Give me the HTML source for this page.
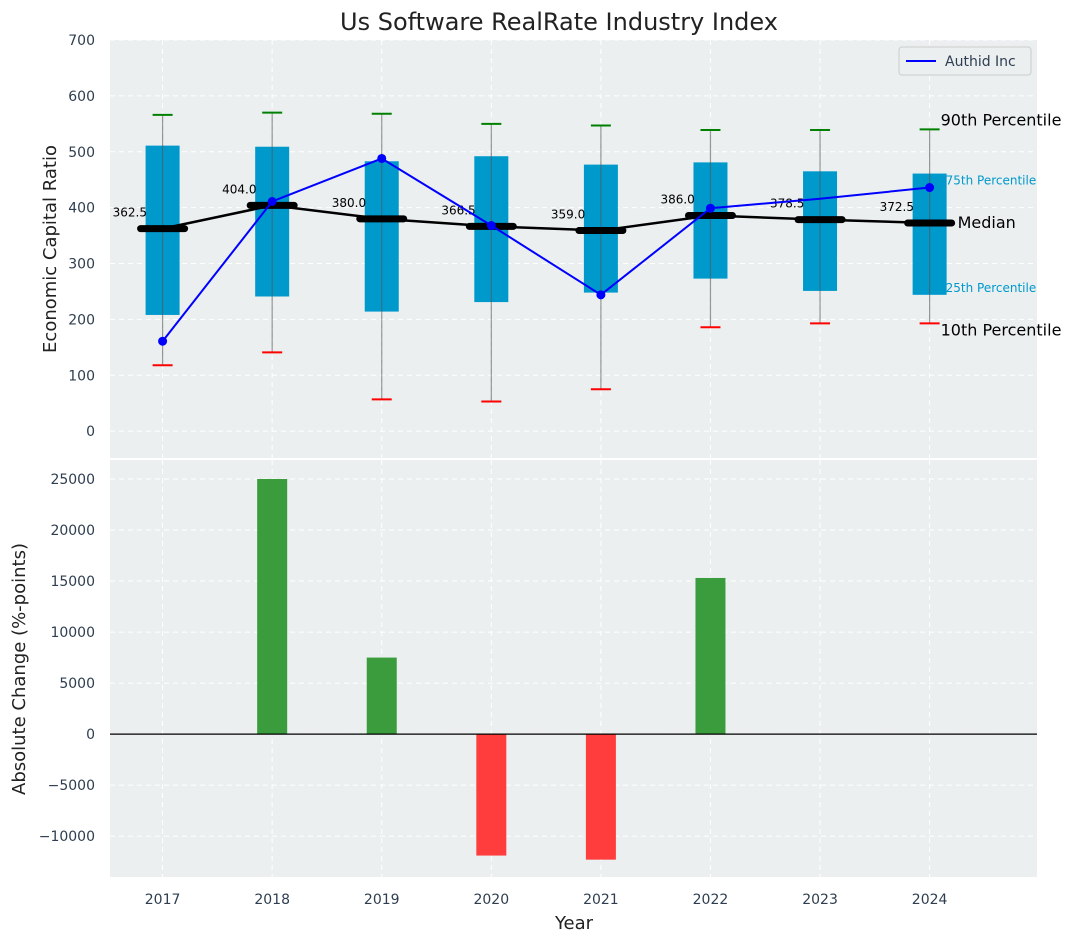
<!DOCTYPE html>
<html><head><meta charset="utf-8"><style>
body{margin:0;background:#fff;font-family:"Liberation Sans","DejaVu Sans",sans-serif}
svg text{font-family:"DejaVu Sans","Liberation Sans",sans-serif}
</style></head><body>
<svg id="c" width="1076" height="942" xmlns="http://www.w3.org/2000/svg"></svg>
<script>
const years=[2017,2018,2019,2020,2021,2022,2023,2024];
const q1=[208,241,214,231,248,273,251,244];
const q3=[511,509,483,492,477,481,465,461];
const p10=[118,141,57,53,75,186,193,193];
const p90=[566,570,568,550,547,539,539,540];
const medians=[362.5,404.0,380.0,366.5,359.0,386.0,378.5,372.5];
const company=[161,411,488,368,244,399,416,436];
const changes=[0,25000,7500,-11900,-12300,15300,0,0];
const yTicksTop=[0,100,200,300,400,500,600,700];
const yTicksBot=[-10000,-5000,0,5000,10000,15000,20000,25000];

const NS="http://www.w3.org/2000/svg";
const svg=document.getElementById('c');
function el(t,a,txt){const e=document.createElementNS(NS,t);for(const k in a)e.setAttribute(k,a[k]);if(txt!==undefined)e.textContent=txt;svg.appendChild(e);return e;}
const X0=110,X1=1037;
const x=v=>X0+(v-2016.52)/(2024.98-2016.52)*(X1-X0);
const T0=40,T1=458;const yT=v=>T0+(700-v)/(700-(-48))*(T1-T0);
const B0=460,B1=877;const yB=v=>B0+(26860-v)/(26860-(-14000))*(B1-B0);

let e;
e=el('rect',{x:X0,y:T0,width:X1-X0,height:T1-T0,fill:'#ebeff0'});

e=el('rect',{x:X0,y:B0,width:X1-X0,height:B1-B0,fill:'#ebeff0'});


years.forEach(yr=>{
 el('line',{x1:x(yr),x2:x(yr),y1:T0,y2:T1,stroke:'#fff','stroke-dasharray':'5,4','stroke-width':1});
 el('line',{x1:x(yr),x2:x(yr),y1:B0,y2:B1,stroke:'#fff','stroke-dasharray':'5,4','stroke-width':1});
 e=el('text',{x:x(yr),y:904,'font-size':14,fill:'#2e3e50','text-anchor':'middle'},yr);
 
});
yTicksTop.forEach(v=>{
 el('line',{x1:X0,x2:X1,y1:yT(v),y2:yT(v),stroke:'#fff','stroke-dasharray':'5,4'});
 e=el('text',{x:95,y:yT(v)+5,'font-size':14,fill:'#2e3e50','text-anchor':'end'},v);
 
});
yTicksBot.forEach(v=>{
 el('line',{x1:X0,x2:X1,y1:yB(v),y2:yB(v),stroke:'#fff','stroke-dasharray':'5,4'});
 e=el('text',{x:95,y:yB(v)+5,'font-size':14,fill:'#2e3e50','text-anchor':'end'},v<0?'\u2212'+(-v):v);
 
});

years.forEach((yr,i)=>{
 const cx=x(yr);
 e=el('rect',{x:cx-17,y:yT(q3[i]),width:34,height:yT(q1[i])-yT(q3[i]),fill:'#0099cc'});
 
 el('line',{x1:cx,x2:cx,y1:yT(p90[i]),y2:yT(p10[i]),stroke:'#555','stroke-opacity':0.6,'stroke-width':1.2});
 e=el('line',{x1:cx-10,x2:cx+10,y1:yT(p90[i]),y2:yT(p90[i]),stroke:'green','stroke-width':2});
 
 e=el('line',{x1:cx-10,x2:cx+10,y1:yT(p10[i]),y2:yT(p10[i]),stroke:'red','stroke-width':2});
 
});
e=el('polyline',{points:years.map((yr,i)=>x(yr)+','+yT(medians[i])).join(' '),fill:'none',stroke:'#000','stroke-width':2.5});

years.forEach((yr,i)=>{
 const cx=x(yr);
 e=el('line',{x1:cx-22,x2:cx+22,y1:yT(medians[i]),y2:yT(medians[i]),stroke:'#000','stroke-width':7,'stroke-linecap':'round'});
 
 e=el('text',{x:cx-50,y:yT(medians[i])-12,'font-size':12,fill:'#000'},medians[i].toFixed(1));
 
});
e=el('polyline',{points:years.map((yr,i)=>x(yr)+','+yT(company[i])).join(' '),fill:'none',stroke:'blue','stroke-width':2});

years.forEach((yr,i)=>{
 if(i===6)return;
 e=el('circle',{cx:x(yr),cy:yT(company[i]),r:4.5,fill:'blue'});
 
});
const li=years.length-1,lx=x(years[li]);
[['90th Percentile',p90[li],16,'#000',11,-4],['75th Percentile',q3[li],12,'#0099cc',16,11],['Median',medians[li],16,'#000',28,5],['25th Percentile',q1[li],12,'#0099cc',16,-3],['10th Percentile',p10[li],16,'#000',11,12]].forEach(a=>{
 e=el('text',{x:lx+a[4],y:yT(a[1])+a[5],'font-size':a[2],fill:a[3]},a[0]);
 
});
e=el('rect',{x:899,y:47,width:132,height:28,rx:3,fill:'#ebeff0',stroke:'#ccc'});

el('line',{x1:906,x2:936,y1:61,y2:61,stroke:'blue','stroke-width':2});
e=el('text',{x:945,y:66,'font-size':14,fill:'#2e3e50'},'Authid Inc');


years.forEach((yr,i)=>{
 const v=changes[i];if(v===0)return;
 const y1=yB(Math.max(v,0)),y2=yB(Math.min(v,0));
 e=el('rect',{x:x(yr)-15,y:y1,width:30,height:y2-y1,fill:v>0?'#3a9c3c':'#ff3d3d'});
 
});
el('line',{x1:X0,x2:X1,y1:yB(0),y2:yB(0),stroke:'#000','stroke-width':1.2});

e=el('text',{x:559,y:30,'font-size':24,fill:'#222','text-anchor':'middle'},'Us Software RealRate Industry Index');

e=el('text',{x:574,y:929,'font-size':18,fill:'#222','text-anchor':'middle'},'Year');

e=el('text',{x:0,y:0,'font-size':18,fill:'#222','text-anchor':'middle',transform:'translate(56,249) rotate(-90)'},'Economic Capital Ratio');

e=el('text',{x:0,y:0,'font-size':18,fill:'#222','text-anchor':'middle',transform:'translate(25,669) rotate(-90)'},'Absolute Change (%-points)');

</script>
</body></html>
